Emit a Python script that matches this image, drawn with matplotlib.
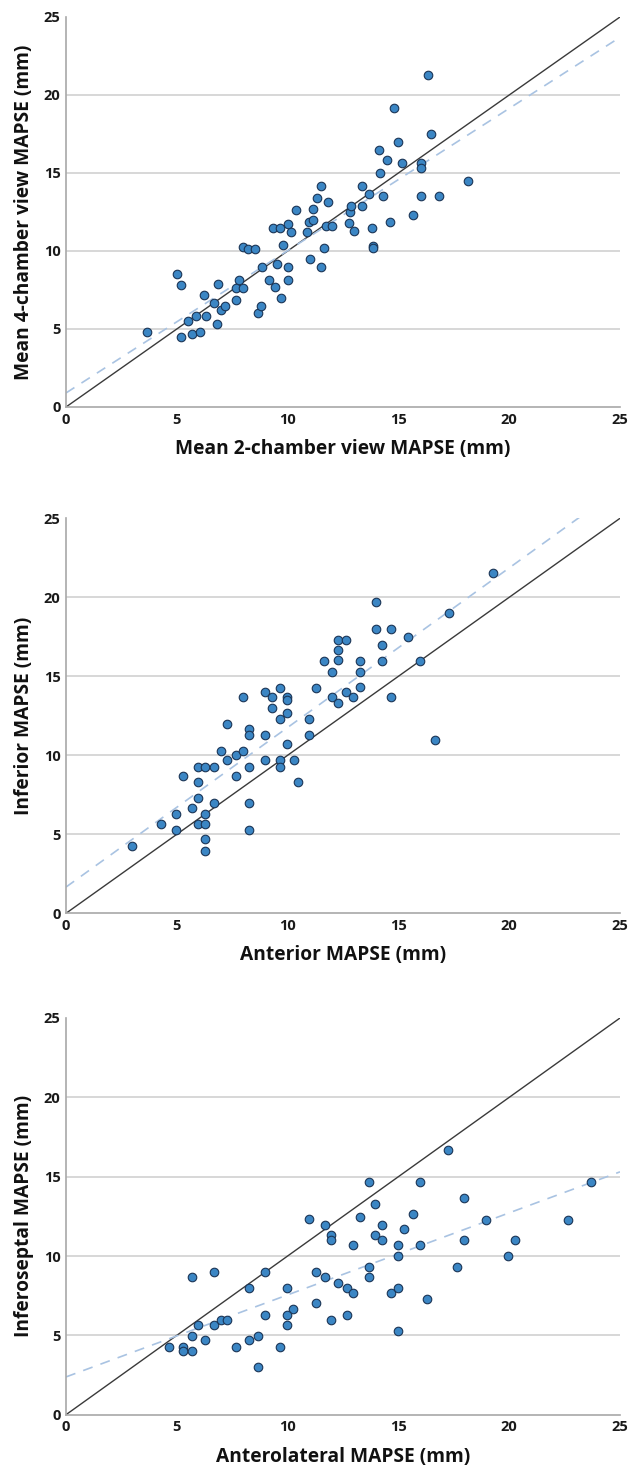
import matplotlib
matplotlib.use("Agg")
import matplotlib.pyplot as plt
import numpy as np

# ---------------- data ----------------
p1_x = [3.67, 5.0, 5.17, 5.17, 5.52, 5.69, 5.87, 6.03, 6.21, 6.30, 6.66, 6.81, 6.87, 7.01, 7.16,
        7.66, 7.67, 7.82, 8.0, 7.97, 8.23, 8.53, 8.66, 8.81, 8.84, 9.16, 9.34, 9.42, 9.51, 9.67,
        9.70, 9.81, 10.02, 10.02, 10.02, 10.14, 10.37, 10.86, 10.98, 11.01, 11.16, 11.16, 11.34,
        11.52, 11.52, 11.66, 11.72, 11.84, 12.0, 12.79, 12.80, 12.85, 13.0, 13.34, 16.35, 14.8,
        16.49, 14.98, 14.14, 14.50, 15.15, 16.0, 16.0, 14.18, 18.14, 13.66, 14.31, 16.0, 16.85,
        13.34, 13.79, 14.64, 15.64, 13.84, 13.86]
p1_y = [4.83, 8.5, 7.84, 4.51, 5.51, 4.66, 5.85, 4.81, 7.18, 5.83, 6.67, 5.34, 7.86, 6.20, 6.49,
        6.86, 7.63, 8.16, 7.63, 10.28, 10.13, 10.13, 6.0, 6.49, 8.99, 8.14, 11.49, 7.67, 9.19, 11.49,
        6.99, 10.36, 11.71, 8.99, 8.14, 11.2, 12.63, 11.2, 11.84, 9.49, 11.99, 12.67, 13.38,
        14.19, 8.99, 10.19, 11.62, 13.16, 11.62, 11.81, 12.5, 12.88, 11.3, 14.19, 21.28, 19.19,
        17.48, 16.99, 16.47, 15.85, 15.64, 15.64, 15.34, 14.98, 14.49, 13.65, 13.5, 13.5, 13.5,
        12.9, 11.49, 11.84, 12.29, 10.34, 10.2]

p2_x = [2.98, 4.29, 4.98, 4.98, 5.28, 5.69, 5.97, 6.27, 6.68, 5.97, 5.97, 5.97, 6.27, 6.27, 6.27,
        6.27, 6.68, 6.98, 7.28, 7.28, 7.67, 7.67, 7.97, 7.97, 8.27, 8.27, 8.27, 8.27, 8.27, 8.98,
        9.28, 9.28, 8.98, 8.98, 9.67, 9.67, 9.67, 9.67, 9.97, 9.97, 9.97, 9.97, 10.28, 10.46,
        10.96, 10.96, 11.27, 11.64, 11.99, 12.26, 12.64, 12.26, 12.26, 11.99, 12.26, 12.64, 12.97,
        19.25, 13.98, 17.27, 13.98, 14.67, 15.44, 14.26, 13.27, 14.26, 15.97, 13.27, 13.27, 14.67,
        16.65]
p2_y = [4.26, 5.67, 6.27, 5.27, 8.69, 6.66, 9.28, 9.28, 9.28, 8.29, 7.28, 5.67, 5.67, 6.27, 4.68,
        3.96, 6.96, 10.29, 9.70, 11.98, 10.0, 8.69, 10.29, 13.69, 11.68, 11.28, 9.28, 6.96, 5.27, 13.99,
        13.69, 12.97, 11.28, 9.70, 14.26, 12.28, 9.70, 9.28, 13.69, 13.5, 12.68, 10.70, 9.70, 8.29,
        12.28, 11.28, 14.26, 15.99, 15.27, 17.3, 17.3, 16.69, 16.01, 13.69, 13.29, 13.99, 13.69,
        21.52, 19.7, 19.0, 17.99, 17.99, 17.49, 16.98, 15.99, 15.99, 15.99, 15.29, 14.3, 13.69,
        10.97]

p3_x = [13.66, 13.96, 10.97, 11.67, 13.27, 11.96, 11.96, 12.96, 13.96,
        5.67, 6.68, 8.97, 8.27, 9.99, 11.28, 11.67, 12.27, 12.67, 12.96, 13.66, 13.66, 11.28, 10.26,
        9.99, 8.97, 12.67,
        17.25, 15.96, 23.68, 17.97, 15.67, 18.97, 22.67, 14.26, 15.27, 14.26, 14.97, 15.96, 17.97,
        20.26, 14.97, 19.96, 17.66, 14.67, 14.97, 16.28,
        9.99, 11.97, 5.97, 6.68, 6.98, 7.28, 5.67, 6.27, 4.66, 5.27, 5.27, 5.67, 7.67, 8.27, 8.68,
        9.67, 8.68, 14.97]
p3_y = [14.68, 13.28, 12.31, 11.97, 12.48, 11.30, 11.01, 10.67, 11.30,
        8.68, 8.99, 8.99, 7.98, 7.98, 8.99, 8.7, 8.3, 7.98, 7.69, 9.29, 8.7, 7.02, 6.68,
        6.28, 6.28, 6.28,
        16.68, 14.68, 14.68, 13.67, 12.67, 12.29, 12.29, 11.95, 11.68, 10.99, 10.67, 10.67, 10.99,
        10.99, 9.98, 9.98, 9.29, 7.69, 7.96, 7.27,
        5.67, 5.99, 5.67, 5.67, 5.99, 5.99, 4.98, 4.69, 4.28, 4.28, 3.99, 3.99, 4.28, 4.69, 4.98,
        4.28, 2.99, 5.27]

# regression lines: (intercept, slope)
fit_intercepts = [0.9, 1.66, 2.38]
fit_slopes = [0.912, 1.01, 0.517]

x_labels = ["Mean 2-chamber view MAPSE (mm)", "Anterior MAPSE (mm)", "Anterolateral MAPSE (mm)"]
y_labels = ["Mean 4-chamber view MAPSE (mm)", "Inferior MAPSE (mm)", "Inferoseptal MAPSE (mm)"]
tick_values = [0, 5, 10, 15, 20, 25]
tick_labels = ["0", "5", "10", "15", "20", "25"]

xs = [p1_x, p2_x, p3_x]
ys = [p1_y, p2_y, p3_y]

# ---------------- figure ----------------
W, H = 630, 1472
fig = plt.figure(figsize=(W / 100, H / 100), dpi=100)
fig.patch.set_facecolor("white")

FONT = ["Open Sans", "DejaVu Sans"]
# axes boxes in pixel coords: (left, top, right, bottom)
boxes = [(66, 17, 620, 407), (66, 518.3, 620, 913.3), (66, 1018, 620, 1414.7)]

for i in range(3):
    l, t, r, b = boxes[i]
    ax = fig.add_axes([l / W, 1 - b / H, (r - l) / W, (b - t) / H])
    ax.set_xlim(0, 25)
    ax.set_ylim(0, 25)
    ax.set_facecolor("white")
    for s in ["top", "right"]:
        ax.spines[s].set_visible(False)
    for s in ["left", "bottom"]:
        ax.spines[s].set_color("#a8a8a8")
        ax.spines[s].set_linewidth(1.2)
    for g in [5, 10, 15, 20]:
        ax.axhline(g, color="#d4d4d4", linewidth=1.3, zorder=0)

    ax.plot([0, 25], [0, 25], color="#3a3a3a", linewidth=1.0, zorder=2)
    a, bb = fit_intercepts[i], fit_slopes[i]
    lx = np.array([0.0, 25.0])
    ax.plot(lx, a + bb * lx, color="#a9c3e2", linewidth=1.2, linestyle=(0, (6, 5)), zorder=2)

    ax.scatter(xs[i], ys[i], s=38, facecolor="#3b86c4", edgecolor="#1b3556",
               linewidth=0.8, zorder=3, clip_on=False)

    ax.set_xticks(tick_values)
    ax.set_xticklabels(tick_labels)
    ax.set_yticks(tick_values)
    ax.set_yticklabels(tick_labels)
    ax.tick_params(length=0, pad=4, labelsize=10.5, labelcolor="#1a1a1a")
    for lab in ax.get_xticklabels() + ax.get_yticklabels():
        lab.set_family(FONT)
        lab.set_fontweight("bold")
    ax.set_xlabel(x_labels[i], family=FONT, fontweight="bold", fontsize=13.8,
                  color="#111111", labelpad=9)
    ax.set_ylabel(y_labels[i], family=FONT, fontweight="bold", fontsize=13.8,
                  color="#111111", labelpad=7)

fig.savefig("out.png", dpi=100, facecolor="white")
